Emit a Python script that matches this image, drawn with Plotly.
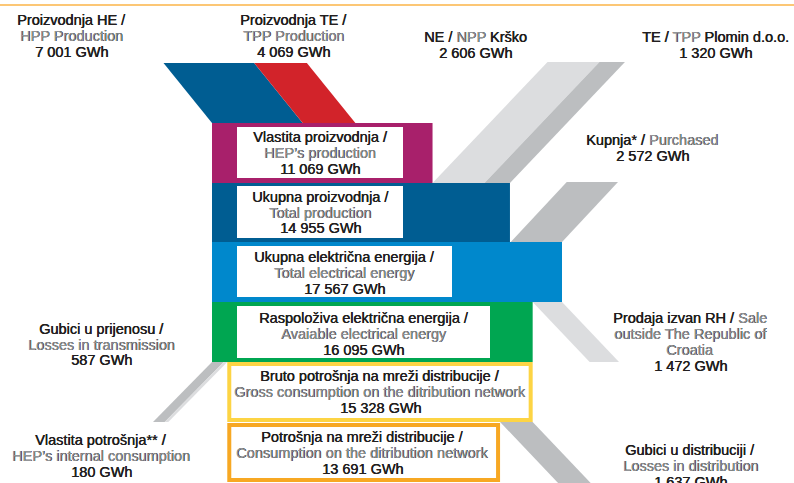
import plotly.graph_objects as go

# ---------------- data (GWh) ----------------
hpp_production = 7001
tpp_production = 4069
npp_krsko = 2606
tpp_plomin = 1320
heps_production = 11069
total_production = 14955
purchased = 2572
total_energy = 17567
sale_outside = 1472
available_energy = 16095
losses_transmission = 587
internal_consumption = 180
gross_distribution = 15328
losses_distribution = 1637
consumption_distribution = 13691

bar_labels = ["Vlastita proizvodnja", "Ukupna proizvodnja",
              "Ukupna električna energija", "Raspoloživa električna energija"]
bar_values = [heps_production, total_production, total_energy, available_energy]

# ---------------- layout constants ----------------
W, H = 794, 483
X0 = 212                 # pixel where 0 GWh sits
S = 350 / total_energy   # px per GWh
INPUT_K = 0.65           # display factor for plant input bands

MAGENTA = "#A8206B"
DARKBLUE = "#005D92"
LIGHTBLUE = "#0088CC"
GREEN = "#00A651"
RED = "#D2232A"
YELLOW = "#FDD444"
ORANGE = "#F7A823"
GRAY_L = "#DCDDDF"
GRAY_D = "#BCBEC0"
TXT = "#231F20"
TXT_G = "#939598"
FONT = "Liberation Sans, Arial, sans-serif"
FS = 14.5


def px(d):
    """pixel shift -> data units"""
    return d / S


def fmt(v):
    return f"{v:,} GWh".replace(",", " ")


fig = go.Figure()


def band(x_top, w_top, y_top, x_bot, w_bot, y_bot, color):
    fig.add_trace(go.Scatter(
        x=[x_top, x_top + w_top, x_bot + w_bot, x_bot, x_top],
        y=[y_top, y_top, y_bot, y_bot, y_top],
        fill="toself", fillcolor=color, mode="lines",
        line=dict(width=0, color=color), hoverinfo="skip", showlegend=False))


# --- input bands into HEP's production ---
he_w = hpp_production * INPUT_K
te_w = tpp_production * INPUT_K
band(px(-48.5), he_w, 63, 0, he_w, 123, DARKBLUE)
band(px(-48.5) + he_w, te_w, 63, he_w, te_w, 123, RED)

# --- NPP Krško & TPP Plomin into total production ---
rest = total_production - heps_production - npp_krsko
band(heps_production + px(115), npp_krsko, 62, heps_production, npp_krsko, 183, GRAY_L)
band(heps_production + npp_krsko + px(115), rest, 62,
     heps_production + npp_krsko, rest, 183, GRAY_D)

# --- purchased into total electrical energy ---
band(total_energy - purchased + px(56), purchased, 182,
     total_energy - purchased, purchased, 242, GRAY_D)

# --- sale outside Croatia ---
band(available_energy, sale_outside, 302,
     available_energy + px(57), sale_outside, 362, GRAY_L)

# --- losses in transmission & internal consumption ---
band(0, losses_transmission, 362, px(-59), losses_transmission, 422, GRAY_D)
band(losses_transmission, internal_consumption, 362,
     losses_transmission + px(-59), internal_consumption, 422, GRAY_L)

# --- losses in distribution ---
offset = losses_transmission + internal_consumption
band(offset + consumption_distribution, losses_distribution, 422,
     offset + consumption_distribution + px(58), losses_distribution, 483, GRAY_D)

# --- main bars ---
fig.add_trace(go.Bar(
    orientation="h", base=[0, 0, 0, 0], x=bar_values,
    y=[153, 212.5, 272, 332], width=[60, 59, 60, 60],
    marker=dict(color=[MAGENTA, DARKBLUE, LIGHTBLUE, GREEN], line=dict(width=0)),
    hoverinfo="skip", showlegend=False, text=bar_labels, textposition="none"))

# --- outlined distribution boxes ---
bw = 4
fig.add_trace(go.Bar(
    orientation="h",
    base=[offset + px(bw / 2), offset + px(bw / 2)],
    x=[gross_distribution - px(bw), consumption_distribution - px(bw)],
    y=[392, 452.5], width=[60 - bw, 59 - bw],
    marker=dict(color="white", line=dict(width=bw, color=[YELLOW, ORANGE])),
    hoverinfo="skip", showlegend=False))

shapes = [dict(type="line", xref="paper", yref="paper", x0=0, x1=1,
               y0=1 - 5 / H, y1=1 - 5 / H, line=dict(color="#FBB447", width=1.5))]

# white label boxes (pixel boxes)
for (l, r, t, b) in [(237, 403, 127, 178), (237, 403, 186, 238),
                     (237, 452, 246, 297), (237, 490, 306, 358)]:
    shapes.append(dict(type="rect", xref="paper", yref="paper", layer="above",
                       x0=l / W, x1=r / W, y0=1 - b / H, y1=1 - t / H,
                       fillcolor="white", line=dict(width=0)))

annotations = []


def g(t):
    return f'<span style="color:{TXT_G}">{t}</span>'


def label(xc, ys, lines):
    for y, t in zip(ys, lines):
        annotations.append(dict(
            xref="paper", yref="paper", x=xc / W, y=1 - y / H,
            xanchor="center", yanchor="middle", showarrow=False, text=t,
            font=dict(family=FONT, size=FS, color=TXT, shadow="0.4px 0px 0px")))


label(71, [20, 36, 52], ["Proizvodnja HE /", g("HPP Production"), fmt(hpp_production)])
label(293, [20, 36, 52], ["Proizvodnja TE /", g("TPP Production"), fmt(tpp_production)])
label(475, [37, 53], [f"NE / {g('NPP')} Krško", fmt(npp_krsko)])
label(715, [37, 53], [f"TE / {g('TPP')} Plomin d.o.o.", fmt(tpp_plomin)])
label(652, [140, 156], [f"Kupnja* / {g('Purchased')}", fmt(purchased)])
label(101, [329, 345, 360], ["Gubici u prijenosu /", g("Losses in transmission"),
                             fmt(losses_transmission)])
label(101, [440, 456, 472], ["Vlastita potrošnja** /", g("HEP’s internal consumption"),
                             fmt(internal_consumption)])
label(690, [318, 334, 350, 366], [f"Prodaja izvan RH / {g('Sale')}", g("outside The Republic of"),
                                  g("Croatia"), fmt(sale_outside)])
label(690, [450, 466, 482], ["Gubici u distribuciji /", g("Losses in distribution"),
                             fmt(losses_distribution)])

label(320, [137, 153, 169], ["Vlastita proizvodnja /", g("HEP’s production"), fmt(heps_production)])
label(320, [197, 213, 228], ["Ukupna proizvodnja /", g("Total production"), fmt(total_production)])
label(344.5, [257, 273, 289], ["Ukupna električna energija /", g("Total electrical energy"),
                               fmt(total_energy)])
label(363.5, [318, 334, 350], ["Raspoloživa električna energija /", g("Avaiable electrical energy"),
                               fmt(available_energy)])
label(380, [376, 392, 408], ["Bruto potrošnja na mreži distribucije /",
                             g("Gross consumption on the ditribution network"),
                             fmt(gross_distribution)])
label(362, [437, 453, 469], ["Potrošnja na mreži distribucije /",
                             g("Consumption on the ditribution network"),
                             fmt(consumption_distribution)])

fig.update_layout(
    width=W, height=H, margin=dict(l=0, r=0, t=0, b=0),
    paper_bgcolor="white", plot_bgcolor="white",
    barmode="overlay", showlegend=False,
    xaxis=dict(range=[-X0 / S, (W - X0) / S], visible=False, fixedrange=True),
    yaxis=dict(range=[H, 0], visible=False, fixedrange=True),
    shapes=shapes, annotations=annotations,
)

fig.write_html("out.html", config=dict(displayModeBar=False),
               post_script="document.body.style.margin='0px';"
                           "document.body.style.overflow='hidden';")
